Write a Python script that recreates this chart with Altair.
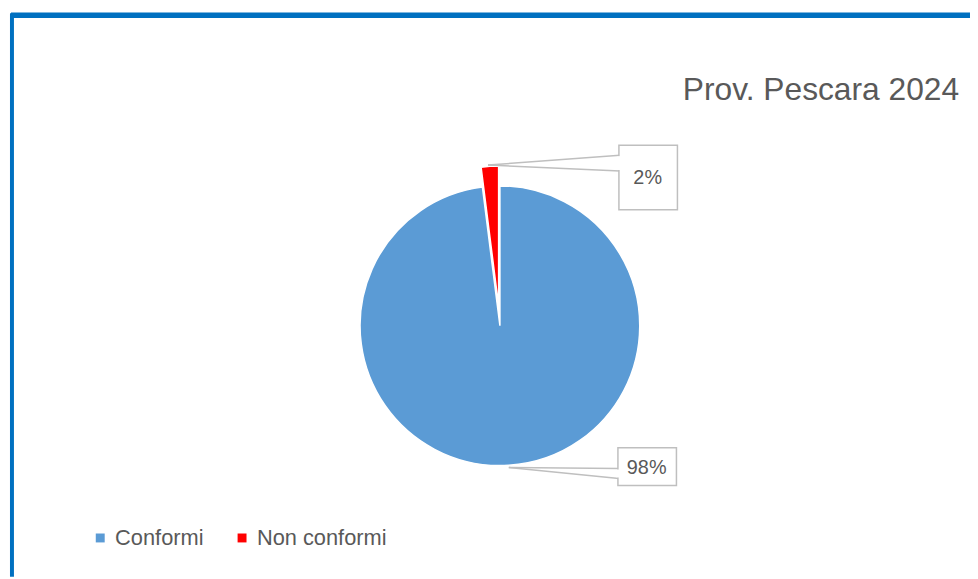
import altair as alt
import pandas as pd

categories = ["Conformi", "Non conformi"]
values = [98, 2]
colors = ["#5B9BD5", "#FF0000"]
title_text = "Prov. Pescara 2024"

total = sum(values)
starts = []
acc = 0
for v in values:
    starts.append(acc)
    acc += v
df = pd.DataFrame({
    "cat": categories,
    "value": values,
    "start": starts,
    "end": [s + v for s, v in zip(starts, values)],
    "pct": [f"{round(v / total * 100)}%" for v in values],
})

FONT = "Liberation Sans"
GRAY = "#595959"
LINE = "#BFBFBF"
W, H = 970, 571

theta_scale = alt.Scale(domain=[0, total])
color = alt.Color(
    "cat:N",
    scale=alt.Scale(domain=categories, range=colors),
    legend=alt.Legend(
        orient="none", legendX=79, legendY=521, direction="horizontal",
        title=None, symbolType="square", symbolSize=81, symbolStrokeWidth=0,
        labelFontSize=22, labelFont=FONT, labelColor=GRAY, labelOffset=4,
        columnPadding=27,
    ),
)

base = alt.Chart(df)


def arc_layer(cat, cx, cy):
    return base.transform_filter(alt.datum.cat == cat).mark_arc(
        radius=141, stroke="white", strokeWidth=1.5
    ).encode(
        theta=alt.Theta("start:Q", scale=theta_scale, stack=None),
        theta2="end:Q",
        color=color,
        x=alt.value(cx),
        y=alt.value(cy),
    )


blue = arc_layer("Conformi", 493, 318)
red = arc_layer("Non conformi", 491.7, 298)


def rule(x, y, x2, y2, col=LINE, w=1.5):
    return base.transform_filter(alt.datum.cat == "Conformi").mark_rule(
        color=col, strokeWidth=w
    ).encode(x=alt.value(x), y=alt.value(y), x2=alt.value(x2), y2=alt.value(y2))


def box(cat, x, x2, y, y2):
    return base.transform_filter(alt.datum.cat == cat).mark_rect(
        fill="white", stroke=LINE, strokeWidth=1.5
    ).encode(x=alt.value(x), x2=alt.value(x2), y=alt.value(y), y2=alt.value(y2))


def label(cat, x, y):
    return base.transform_filter(alt.datum.cat == cat).mark_text(
        font=FONT, fontSize=20, color=GRAY, align="center", baseline="middle"
    ).encode(text="pct:N", x=alt.value(x), y=alt.value(y))


# callout for 2%
c2 = [
    rule(481, 156, 614, 146),
    rule(481, 156, 614, 162),
    box("Non conformi", 613, 672, 136, 201),
    rule(613, 147, 613, 161, col="white", w=2.5),
    label("Non conformi", 642, 169),
]
# callout for 98%
c98 = [
    rule(502, 461, 613, 462),
    rule(502, 461, 613, 472),
    box("Conformi", 612, 671, 441, 479),
    rule(612, 463, 612, 471, col="white", w=2.5),
    label("Conformi", 641, 461),
]

title = alt.Chart(pd.DataFrame({"t": [title_text]})).mark_text(
    font=FONT, fontSize=32, color=GRAY, align="right", baseline="alphabetic"
).encode(text="t:N", x=alt.value(956), y=alt.value(90))

frame_top = rule(0, 5, W, 5, col="#0070C0", w=5.5)
frame_left = rule(1, 3, 1, H, col="#0070C0", w=4)

chart = alt.layer(
    frame_top, frame_left, blue, red, *c2, *c98, title
).properties(
    width=W, height=H,
    autosize=alt.AutoSizeParams(type="fit", contains="padding"),
    padding=0,
    background="white",
).configure_view(stroke=None)

chart.save("out.html", embed_options={"renderer": "svg", "actions": False})
